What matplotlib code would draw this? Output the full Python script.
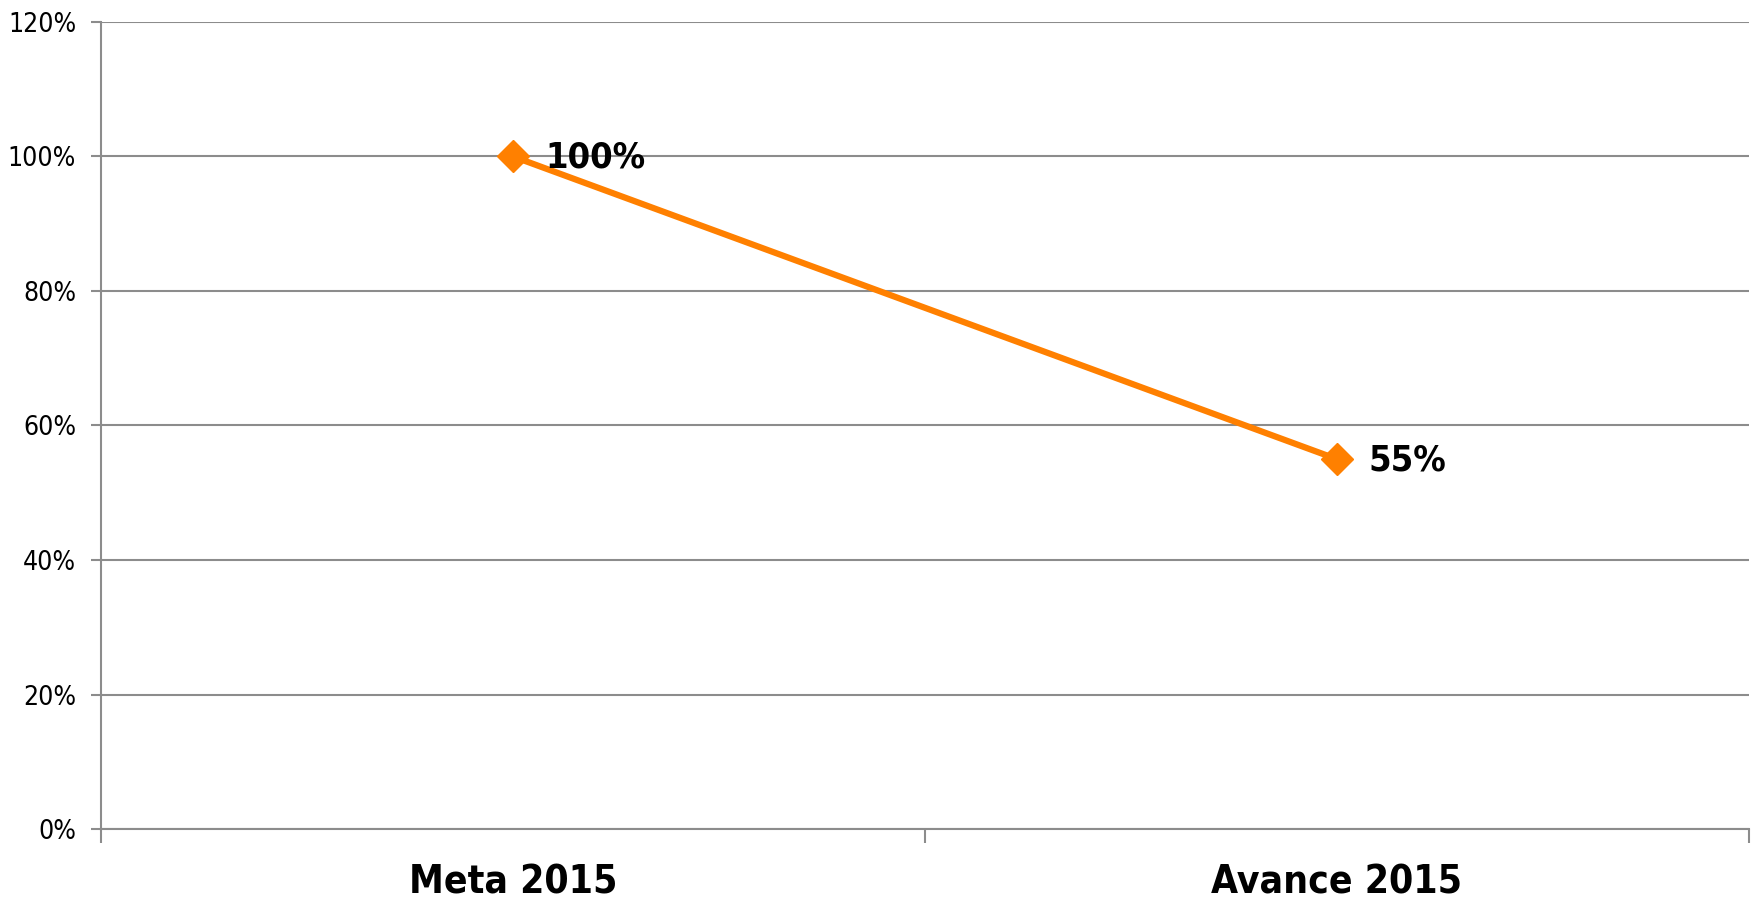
import matplotlib
matplotlib.use("Agg")
import matplotlib.pyplot as plt
from matplotlib.ticker import FixedLocator, NullFormatter

categories = ["Meta 2015", "Avance 2015"]
values = [100, 55]
data_labels = ["100%", "55%"]
ytick_values = [0, 20, 40, 60, 80, 100, 120]
ytick_labels = ["0%", "20%", "40%", "60%", "80%", "100%", "120%"]

grey = "#8c8c8c"
orange = "#FF8000"
font = ["DejaVu Sans"]

fig = plt.figure(figsize=(17.54, 9.01), dpi=100)
ax = fig.add_axes([0.0576, 0.0799, 0.9395, 0.8957])

xpos = [i + 0.5 for i in range(len(categories))]
ax.plot(xpos, values, color=orange, linewidth=4.5, marker="D", markersize=16,
        markeredgecolor=orange, markerfacecolor=orange, solid_capstyle="round", zorder=3)

for x, v, lab in zip(xpos, values, data_labels):
    ax.annotate(lab, (x, v), xytext=(23, -1), textcoords="offset points",
                ha="left", va="center", fontsize=26, fontweight="bold", color="black",
                family=font, fontstretch="condensed")

ax.set_xlim(0, len(categories))
ax.set_ylim(0, 120)
ax.set_yticks(ytick_values)
ax.set_yticklabels(ytick_labels, fontsize=19, family=font, fontstretch="condensed")
ax.yaxis.grid(True, color=grey, linewidth=1.5)
ax.set_axisbelow(True)

ax.xaxis.set_major_locator(FixedLocator(list(range(len(categories) + 1))))
ax.xaxis.set_major_formatter(NullFormatter())
ax.xaxis.set_minor_locator(FixedLocator(xpos))
ax.set_xticklabels(categories, minor=True, fontsize=28, fontweight="bold", family=font,
                   fontstretch="condensed")
ax.tick_params(axis="x", which="minor", length=0, pad=25)
ax.tick_params(axis="x", which="major", length=10, width=1.5, color=grey)
ax.tick_params(axis="y", length=7, width=1.5, color=grey, pad=11)

for s in ["top", "right"]:
    ax.spines[s].set_visible(False)
for s in ["left", "bottom"]:
    ax.spines[s].set_color(grey)
    ax.spines[s].set_linewidth(1.5)

fig.savefig("out.png", dpi=100, facecolor="white")
